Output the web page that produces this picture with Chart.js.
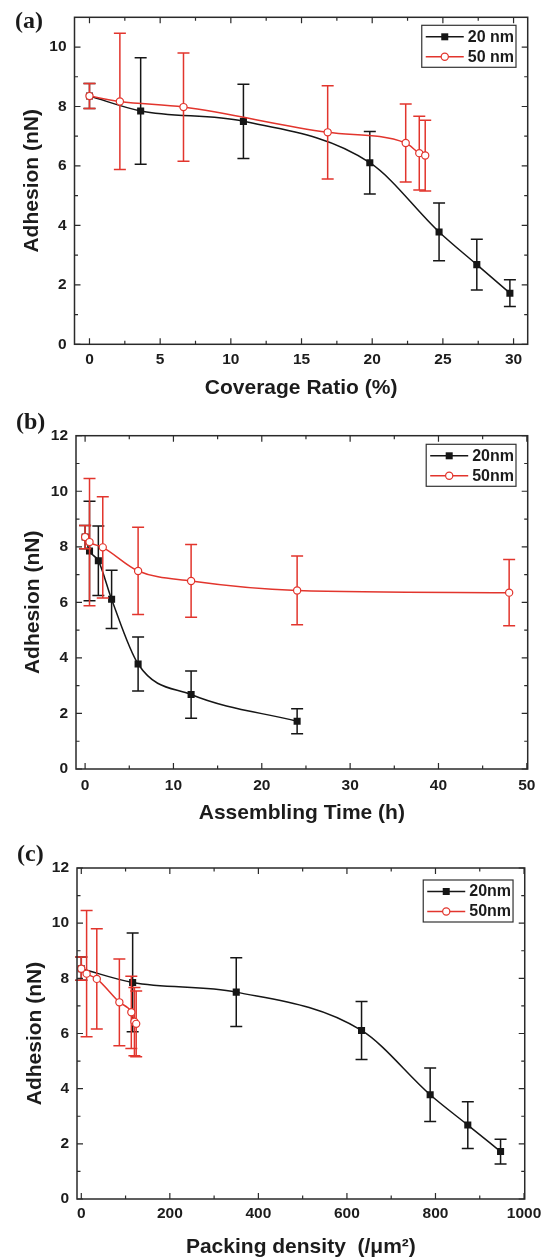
<!DOCTYPE html>
<html>
<head>
<meta charset="utf-8">
<script src="https://cdn.jsdelivr.net/npm/chart.js@4.4.0/dist/chart.umd.min.js"></script>
<style>
  html, body { margin: 0; padding: 0; background: #fff; overflow: hidden; }
  body { width: 547px; height: 1258px; position: relative; }
  canvas { position: absolute; left: 0; }
  .tag { position: absolute; font: bold 24px "Liberation Serif", "Times New Roman", serif; line-height: 24px; color: #1a1a1a; }
</style>
</head>
<body>
<canvas id="chartA" width="547" height="410" style="top:0"></canvas>
<canvas id="chartB" width="547" height="420" style="top:410px"></canvas>
<canvas id="chartC" width="547" height="428" style="top:830px"></canvas>
<div class="tag" style="left:15px;top:8px">(a)</div>
<div class="tag" style="left:16px;top:409px">(b)</div>
<div class="tag" style="left:17px;top:841px">(c)</div>
<script>
// x positions of the samples in the three panels
const coverage20 = [0, 3.62, 10.89, 19.83, 24.73, 27.4, 29.74];
const coverage50 = [0, 2.15, 6.65, 16.85, 22.37, 23.33, 23.75];
const time20 = [0, 0.5, 1.5, 3, 6, 12, 24];
const time50 = [0, 0.5, 2, 6, 12, 24, 48];
const density20 = [0, 116, 350, 633, 788, 873, 947];
const density50 = [0, 12, 35, 86, 113, 120, 124];

// adhesion force (nN) and error bars, same for every panel
const adhesion20 = [8.35, 7.85, 7.5, 6.11, 3.78, 2.68, 1.72];
const error20 = [0.42, 1.79, 1.25, 1.05, 0.97, 0.85, 0.45];
const adhesion50 = [8.35, 8.17, 7.98, 7.13, 6.77, 6.43, 6.35];
const error50 = [0.42, 2.29, 1.82, 1.57, 1.31, 1.24, 1.19];

// tick labels
const coverageTicks = [0, 5, 10, 15, 20, 25, 30];
const timeTicks = [0, 10, 20, 30, 40, 50];
const densityTicks = [0, 200, 400, 600, 800, 1000];
const adhesionTicksA = [0, 2, 4, 6, 8, 10];
const adhesionTicks = [0, 2, 4, 6, 8, 10, 12];

const red = '#e2352d';
const black = '#161616';
const ink = '#1c1c1c';
const sans = '"Liberation Sans", Arial, Helvetica, sans-serif';

function pts(xs, ys) {
  return xs.map((x, i) => ({ x: x, y: ys[i] }));
}

// vertical error bars, drawn just under each dataset
const errorBars = {
  id: 'errorBars',
  beforeDatasetDraw(chart, args) {
    const ds = chart.data.datasets[args.index];
    if (!ds.errors) return;
    const { ctx, scales: { x, y } } = chart;
    ctx.save();
    ctx.strokeStyle = ds.borderColor;
    ctx.lineWidth = 1.5;
    ds.data.forEach((p, i) => {
      const px = x.getPixelForValue(p.x);
      const top = y.getPixelForValue(p.y + ds.errors[i]);
      const bot = y.getPixelForValue(p.y - ds.errors[i]);
      ctx.beginPath();
      ctx.moveTo(px, top); ctx.lineTo(px, bot);
      ctx.moveTo(px - 6, top); ctx.lineTo(px + 6, top);
      ctx.moveTo(px - 6, bot); ctx.lineTo(px + 6, bot);
      ctx.stroke();
    });
    ctx.restore();
  }
};

function minorValues(scale) {
  const vals = scale.ticks.map(t => t.value);
  const step = vals[1] - vals[0];
  const out = [];
  for (let v = vals[0] - step / 2; v < scale.max - 1e-9; v += step) {
    if (v > scale.min + 1e-9) out.push(v);
  }
  return out;
}

// Origin style frame with inward ticks on all four sides, plus the boxed legend
const frame = {
  id: 'frame',
  afterDraw(chart, args, opts) {
    const { ctx, chartArea: a, scales: { x, y } } = chart;
    ctx.save();
    ctx.strokeStyle = '#2a2a2a';
    ctx.lineWidth = 1.5;
    ctx.strokeRect(a.left, a.top, a.right - a.left, a.bottom - a.top);
    ctx.lineWidth = 1.2;
    const mark = (vals, len) => {
      ctx.beginPath();
      vals.forEach(v => {
        const px = x.getPixelForValue(v);
        ctx.moveTo(px, a.bottom); ctx.lineTo(px, a.bottom - len);
        ctx.moveTo(px, a.top); ctx.lineTo(px, a.top + len);
      });
      ctx.stroke();
    };
    const markY = (vals, len) => {
      ctx.beginPath();
      vals.forEach(v => {
        const py = y.getPixelForValue(v);
        ctx.moveTo(a.left, py); ctx.lineTo(a.left + len, py);
        ctx.moveTo(a.right, py); ctx.lineTo(a.right - len, py);
      });
      ctx.stroke();
    };
    mark(x.ticks.map(t => t.value), 6);
    mark(minorValues(x), 3.5);
    markY(y.ticks.map(t => t.value), 6);
    markY(minorValues(y), 3.5);

    // legend
    const items = chart.data.datasets;
    ctx.font = 'bold 16px ' + sans;
    const textW = Math.max(...items.map(d => ctx.measureText(d.label).width));
    const w = 4 + 38 + 4 + textW + 2;
    const h = 42;
    const right = a.right - opts.right;
    const top = a.top + opts.top;
    const left = right - w;
    ctx.fillStyle = '#fff';
    ctx.fillRect(left, top, w, h);
    ctx.strokeStyle = '#333';
    ctx.lineWidth = 1.2;
    ctx.strokeRect(left, top, w, h);
    items.forEach((d, i) => {
      const cy = top + 11.5 + i * 20;
      const x0 = left + 4, x1 = x0 + 38, cx = (x0 + x1) / 2;
      ctx.strokeStyle = d.borderColor;
      ctx.lineWidth = 1.5;
      ctx.beginPath(); ctx.moveTo(x0, cy); ctx.lineTo(x1, cy); ctx.stroke();
      if (d.pointStyle === 'rect') {
        ctx.fillStyle = d.borderColor;
        ctx.fillRect(cx - 3.5, cy - 3.5, 7, 7);
      } else {
        ctx.fillStyle = '#fff';
        ctx.lineWidth = 1.2;
        ctx.beginPath(); ctx.arc(cx, cy, 3.6, 0, Math.PI * 2); ctx.fill(); ctx.stroke();
      }
      ctx.fillStyle = ink;
      ctx.textAlign = 'left';
      ctx.textBaseline = 'middle';
      ctx.fillText(d.label, x1 + 4, cy + 0.5);
    });
    ctx.restore();
  }
};

function makePanel(p) {
  const tickFont = { family: sans, size: 15.5, weight: 'bold' };
  const titleFont = { family: sans, size: 21, weight: 'bold', lineHeight: 1 };
  new Chart(document.getElementById(p.id), {
    type: 'line',
    data: {
      datasets: [
        {
          label: p.labels[0],
          data: pts(p.x20, adhesion20),
          errors: error20,
          borderColor: black,
          backgroundColor: black,
          borderWidth: 1.5,
          pointStyle: 'rect',
          pointRadius: 5,
          pointBorderWidth: 0,
          cubicInterpolationMode: 'monotone',
          order: 2
        },
        {
          label: p.labels[1],
          data: pts(p.x50, adhesion50),
          errors: error50,
          borderColor: red,
          backgroundColor: '#fff',
          pointBackgroundColor: '#fff',
          pointBorderColor: red,
          borderWidth: 1.5,
          pointStyle: 'circle',
          pointRadius: 3.6,
          pointBorderWidth: 1.2,
          cubicInterpolationMode: 'monotone',
          order: 1
        }
      ]
    },
    options: {
      responsive: false,
      animation: false,
      layout: { padding: { left: 0, top: p.area.top, right: 547 - p.area.right, bottom: 0 } },
      plugins: {
        legend: { display: false },
        tooltip: { enabled: false },
        frame: p.legend
      },
      scales: {
        x: {
          type: 'linear',
          min: p.xMin,
          max: p.xMax,
          grid: { display: false, drawTicks: false },
          border: { display: false },
          ticks: { autoSkip: false, maxRotation: 0,
                   padding: p.xTickPad, color: ink, font: tickFont, callback: v => String(v) },
          afterBuildTicks(s) { s.ticks = p.xTicks.map(v => ({ value: v })); },
          title: { display: true, text: p.xTitle, color: ink, font: titleFont,
                   padding: { top: 0, bottom: p.xTitlePad } },
          afterFit(s) { s.height = p.height - p.area.bottom; }
        },
        y: {
          type: 'linear',
          min: 0,
          max: p.yMax,
          grid: { display: false, drawTicks: false },
          border: { display: false },
          ticks: { autoSkip: false, padding: 8, color: ink, font: tickFont,
                   callback: v => String(v) },
          afterBuildTicks(s) { s.ticks = p.yTicks.map(v => ({ value: v })); },
          title: { display: true, text: 'Adhesion (nN)', color: ink, font: titleFont,
                   padding: { top: p.yTitlePad, bottom: 0 } },
          afterFit(s) { s.width = p.area.left; }
        }
      }
    },
    plugins: [errorBars, frame]
  });
}

makePanel({
  id: 'chartA', height: 410,
  area: { left: 74.5, top: 11, right: 527.7, bottom: 344.3 },
  x20: coverage20, x50: coverage50, xMin: -1.06, xMax: 31, yMax: 11,
  xTicks: coverageTicks, yTicks: adhesionTicksA,
  xTitle: 'Coverage Ratio (%)', labels: ['20 nm', '50 nm'],
  xTickPad: 6.4, xTitlePad: 11.5, yTitlePad: 22,
  legend: { right: 11.7, top: 8 }
});

makePanel({
  id: 'chartB', height: 420,
  area: { left: 76, top: 25.7, right: 527.7, bottom: 359 },
  x20: time20, x50: time50, xMin: -1.03, xMax: 50.1, yMax: 12,
  xTicks: timeTicks, yTicks: adhesionTicks,
  xTitle: 'Assembling Time (h)', labels: ['20nm', '50nm'],
  xTickPad: 7.7, xTitlePad: 6.2, yTitlePad: 23,
  legend: { right: 11.7, top: 8.6 }
});

makePanel({
  id: 'chartC', height: 428,
  area: { left: 77, top: 38, right: 526.7, bottom: 369 },
  x20: density20, x50: density50, xMin: -9.7, xMax: 1001.6, yMax: 12,
  xTicks: densityTicks, yTicks: adhesionTicks,
  xTitle: 'Packing density  (/\u03bcm\u00b2)', labels: ['20nm', '50nm'],
  xTickPad: 5.7, xTitlePad: 0.5, yTitlePad: 24.5,
  legend: { right: 11.7, top: 12 }
});
</script>
</body>
</html>
